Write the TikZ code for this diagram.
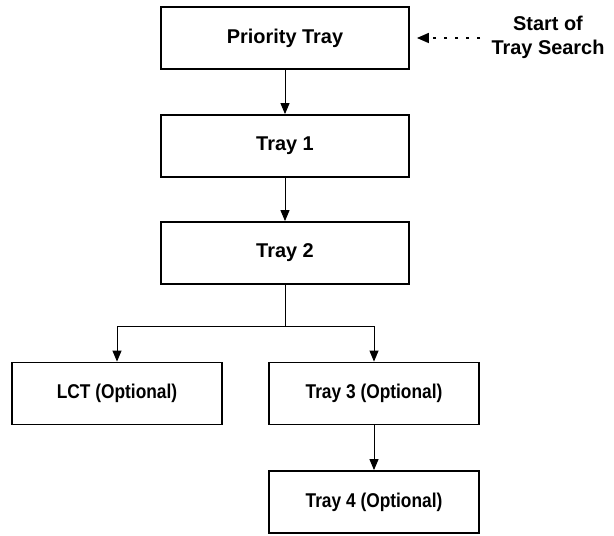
\documentclass[tikz,border=0pt]{standalone}
\usepackage{fontspec}
\setmainfont{Liberation Sans}
\usetikzlibrary{arrows.meta}
\newcommand\condtext[1]{\scalebox{0.87}[1]{#1}}
\begin{document}
\begin{tikzpicture}[x=1bp,y=-1bp,
  tray/.style={draw, line width=1.8bp, minimum height=62bp, inner sep=0pt,
    font=\fontsize{20}{24}\selectfont\bfseries},
  wide/.style={tray, minimum width=248bp},
  narrow/.style={tray, minimum width=210bp},
  conn/.style={line width=1bp, -{Triangle[length=11bp,width=9bp]}},
  link/.style={line width=1bp}]
\useasboundingbox (0,0) rectangle (614,536);
\node[wide] (pt) at (285,38) {Priority Tray};
\node[wide] (t1) at (285,146) {Tray 1};
\node[wide] (t2) at (285,253) {Tray 2};
\node[narrow] (lct) at (117,393.5) {\condtext{LCT (Optional)}};
\node[narrow] (t3) at (374,393.5) {\condtext{Tray 3 (Optional)}};
\node[narrow] (t4) at (374,502) {\condtext{Tray 4 (Optional)}};
\node[align=center, inner sep=0pt, font=\fontsize{20}{24}\selectfont\bfseries] (start) at (548,37) {Start of\\Tray Search};
\coordinate (branch) at (285,326);
\coordinate (dotend) at (480,38);
\draw[conn] (pt) -- (t1);
\draw[conn] (t1) -- (t2);
\draw[link] (t2.south) -- (branch);
\draw[conn] (branch) -| (lct.north);
\draw[conn] (branch) -| (t3.north);
\draw[conn] (t3) -- (t4);
\draw[line width=1.6bp, dash pattern=on 3bp off 8bp, -{Triangle[length=12bp,width=10bp]}, shorten >=7bp] (dotend) -- (pt.east);
\end{tikzpicture}
\end{document}
